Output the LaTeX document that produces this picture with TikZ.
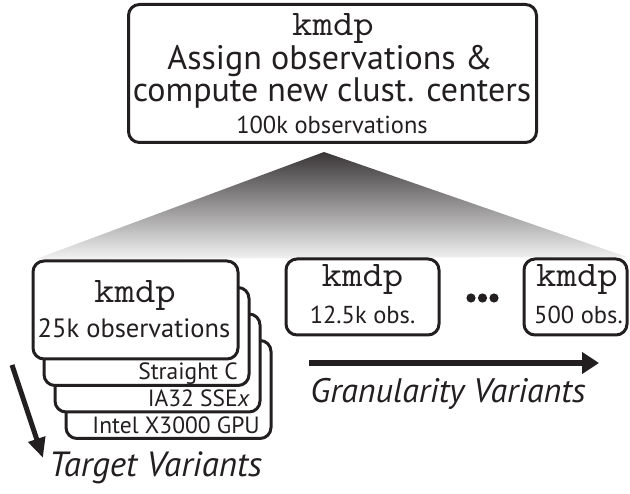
\documentclass[tikz,border=0pt]{standalone}
\usepackage{fontspec}
\usepackage{graphicx}
\setmainfont{PT Sans}
\usetikzlibrary{arrows.meta}
\definecolor{ink}{HTML}{231F20}
% program name in a thin, slightly widened typewriter face
\newcommand{\progname}{\scalebox{1.1}[1]{\fontsize{36}{36}\selectfont\ttfamily kmdp}}
\begin{document}
\begin{tikzpicture}[x=1pt,y=-1pt,
  box/.style={draw=ink, line width=3pt, rounded corners=11pt, fill=white,
    inner sep=0pt},
  stackbox/.style={box, minimum width=205pt, minimum height=98pt},
  gbox/.style={box, minimum height=76pt},
  mono/.style={text=ink, inner sep=0pt, anchor=base},
  bigtxt/.style={font=\fontsize{34}{34}\selectfont, text=ink, inner sep=0pt,
    anchor=base},
  obstxt/.style={font=\fontsize{24.5}{24.5}\selectfont, text=ink, inner sep=0pt,
    anchor=base},
  tgt/.style={font=\fontsize{23.5}{23.5}\selectfont, text=ink, inner sep=0pt,
    anchor=base east},
  vartxt/.style={font=\fontsize{34}{34}\selectfont\itshape, text=ink,
    inner sep=0pt, anchor=base},
  bigarrow/.style={draw=ink, line width=6pt,
    -{Triangle[length=17pt,width=21pt]}},
]
\useasboundingbox (0,0) rectangle (630,494);

% fan from the whole problem down to its variants
\shade[top color=ink!90, bottom color=white!95!black]
  (324,152) -- (627,257) -- (36,259) -- cycle;

% whole problem
\node[box, minimum width=408pt, minimum height=138pt] (top) at (332.5,73.5) {};
\node[mono]   (topname) at (333,36)    {\progname};
\node[bigtxt] (topl1)   at (330,70)    {Assign observations \&};
\node[bigtxt] (topl2)   at (332,101.5) {compute new clust. centers};
\node[obstxt] (topobs)  at (332,134)   {100k observations};

% target variants stack (back to front)
\node[stackbox] (gpu)  at (168.5,389.5) {};
\node[stackbox] (sse)  at (157.5,363)   {};
\node[stackbox] (cee)  at (146.5,336.5) {};
\node[stackbox] (front) at (135.5,310)  {};
\node[tgt] (gpul) at (260,434) {Intel X3000 GPU};
\node[tgt] (ssel) at (250,407) {IA32 SSE\textit{x}};
\node[tgt] (ceel) at (238,380) {Straight C};
\node[mono]   (frontname) at (135,303) {\progname};
\node[obstxt, font=\fontsize{26.5}{26.5}\selectfont] (frontobs) at (134,338) {25k observations};

% granularity variants
\node[gbox, minimum width=153pt] (mid) at (362.5,297) {};
\node[mono]   (midname) at (362.5,287) {\progname};
\node[obstxt] (midobs)  at (362.5,324) {12.5k obs.};
\node[gbox, minimum width=103pt] (last) at (575.5,297) {};
\node[mono]   (lastname) at (577,287) {\progname};
\node[obstxt] (lastobs)  at (578.5,324) {500 obs.};

% ellipsis between the granularity boxes
\foreach \i/\x in {1/471,2/482.5,3/494}
  \fill[ink] (\x,298) circle (4.6pt) coordinate (dot\i);

% axis arrows and their captions
\coordinate (gstart) at (309,363);
\coordinate (gend)   at (599,363);
\draw[bigarrow] (gstart) -- (gend);
\node[vartxt] (glabel) at (448,403) {Granularity Variants};

\coordinate (tstart) at (12,365);
\coordinate (tend)   at (43,458);
\draw[bigarrow, line width=5pt, -{Triangle[length=20pt,width=17pt]}] (tstart) -- (tend);
\node[vartxt, font=\fontsize{35}{35}\selectfont\itshape] (tlabel) at (155.5,477) {Target Variants};
\end{tikzpicture}
\end{document}
